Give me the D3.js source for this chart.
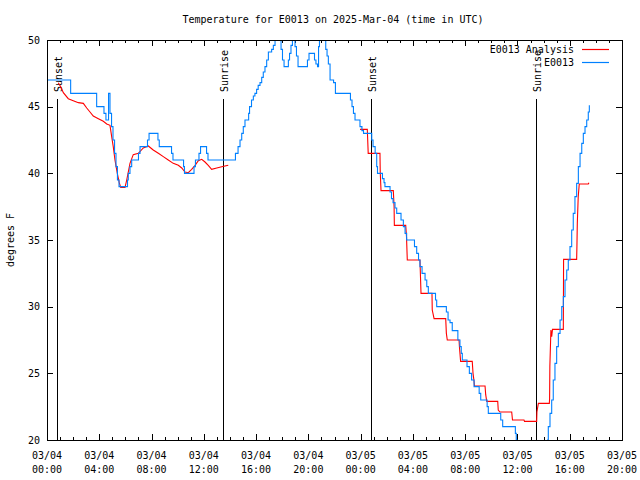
<!DOCTYPE html>
<html><head><meta charset="utf-8">
<script src="https://cdn.jsdelivr.net/npm/d3@7"></script>
<style>
body{margin:0;background:#fff}
svg{display:block}
text{font-family:"DejaVu Sans Mono",monospace;font-size:10px;fill:#000}
</style>
</head><body>
<svg id="chart" width="640" height="480"></svg>
<script>
const chartTitle = "Temperature for E0013 on 2025-Mar-04 (time in UTC)";
const yAxisLabel = "degrees F";
const seriesNames = ["E0013 Analysis", "E0013"];
const seriesColors = ["#ff0000", "#0080ff"];

const xTickHours = [0, 4, 8, 12, 16, 20, 24, 28, 32, 36, 40, 44];
const xTickDates = ["03/04","03/04","03/04","03/04","03/04","03/04","03/05","03/05","03/05","03/05","03/05","03/05"];
const xTickTimes = ["00:00","04:00","08:00","12:00","16:00","20:00","00:00","04:00","08:00","12:00","16:00","20:00"];
const yTicks = [20, 25, 30, 35, 40, 45, 50];

const eventNames = ["Sunset", "Sunrise", "Sunset", "Sunrise"];
const eventHours = [0.78, 13.47, 24.80, 37.42];

// Observations (E0013), value holds from each time until the next
const obsHours = [0,1.81,3.80,4.36,4.51,4.71,4.82,4.94,5.05,5.17,5.28,5.39,5.51,6.16,6.22,6.35,6.48,7.0,7.12,7.69,7.81,8.49,8.59,9.53,9.64,10.45,10.52,11.25,11.36,11.63,11.75,12.21,12.32,
 14.42,14.62,14.77,14.9,15.02,15.15,15.43,15.50,15.65,15.79,15.91,16.04,16.16,16.30,16.43,16.55,16.68,16.81,16.94,17.19,17.32,17.45,17.56,17.79,17.91,18.02,18.14,18.47,18.56,18.67,18.78,18.98,19.09,19.21,19.93,20.05,20.47,20.58,20.70,20.78,20.85,21.24,21.33,21.43,21.53,21.66,21.93,22.07,
 23.22,23.34,23.45,23.57,23.95,24.1,24.22,24.85,24.95,25.11,25.23,25.29,25.67,25.79,25.86,26.25,26.36,26.48,26.63,26.76,27.09,27.27,27.4,27.52,28.12,28.29,28.43,28.54,28.7,28.93,29.06,29.18,29.73,29.82,
 30.56,30.69,30.84,31.01,31.44,31.6,31.7,31.78,32.14,32.32,32.49,32.68,33.07,33.19,33.68,33.77,34.72,34.87,35.84,35.91,35.97,
 38.31,38.36,38.49,38.62,38.74,38.87,39.0,39.13,39.26,39.39,39.51,39.64,39.77,39.89,40.02,40.15,40.27,40.4,40.53,40.66,40.79,40.92,41.04,41.17,41.3,41.42,41.5];
const obsTemps = [47,46,45,44.5,44,46,44.5,43.5,42.5,41.5,40.5,39.5,39,39.5,40,40.5,41,41.5,42,42.5,43,42.5,42,41.5,41,40.5,40,40.5,41,41.5,42,41.5,41,
 41.5,42,42.5,43,43.5,44,44.5,45,45.5,45.8,46,46.3,46.6,46.8,47.2,47.6,48,48.5,49.1,49.3,49.6,50,50.5,50,49.3,48.5,48,48.5,49,49.6,50.3,49.5,48.8,48,48.5,49,48.5,48.2,48,49.5,50.5,50,49.3,48.8,48.2,47,46.8,46,
 45.5,45,44.5,44,43.5,43.2,43,42.5,42,41.5,40.5,40,39.6,39.3,39,38.6,38.1,37.8,37.4,37,36.5,36,35.5,35,34.5,34,33.5,33,32.5,32,31.5,31,30.5,30,
 29.6,29,28.8,28.2,27.5,27,26.5,26,25.5,25,24.5,24,23.5,23,22.5,22,21.5,21,20.5,20,19.5,
 20,21,22,23,24.5,25.75,27,28,29,30,30.75,32,32.75,33.5,34.5,35.75,37,38.25,39.25,40.5,41.5,42.25,43,43.5,44,44.6,45.1];

// Analysis (E0013 Analysis); null marks the gap with no analysis
const anaHours = [0.86,1.05,1.25,1.63,2.01,2.40,2.78,3.04,3.29,3.54,3.93,4.31,4.57,4.82,4.95,5.07,5.2,5.38,5.53,5.64,5.97,6.1,6.35,6.6,6.99,7.37,7.75,8.13,8.52,8.9,9.28,9.66,10.05,10.31,10.56,10.81,11.07,11.33,11.58,11.84,12.09,12.34,12.6,12.99,13.37,13.62,13.87,
 18.0,
 23.95,24.51,24.58,25.48,25.5,25.56,26.5,26.56,26.58,27.45,27.51,27.57,28.54,28.58,28.62,29.46,29.48,29.62,30.51,30.56,30.63,31.53,31.56,31.65,32.54,32.6,32.68,32.71,33.52,33.57,33.65,34.49,34.53,34.66,35.56,35.62,36.5,36.54,37.47,37.49,37.6,38.44,38.46,38.48,38.56,38.62,38.68,39.51,39.53,40.53,40.55,40.58,40.65,40.73,41.42,41.47];
const anaTemps = [46.8,46.5,46.05,45.6,45.45,45.3,45.25,44.9,44.6,44.3,44.1,43.9,43.7,43.6,42.75,42,41,40,39.3,38.95,38.95,39.5,40.75,41.4,41.5,41.9,42.05,41.75,41.5,41.25,41,40.75,40.6,40.4,40.1,40.05,40.3,40.6,40.95,41.05,40.85,40.6,40.3,40.4,40.5,40.55,40.6,
 null,
 43.3,43.3,41.5,41.5,40.1,38.7,38.7,37.5,36.1,36.1,35.25,33.5,33.5,32.25,31.0,31.0,29.75,29.1,29.1,28,27.5,27.5,27,25.9,25.9,25,24.4,24.05,24.05,23.4,22.9,22.9,22.25,22.1,22.1,21.5,21.5,21.4,21.4,22.1,22.75,22.75,23.1,25.55,28.25,27.75,28.3,28.3,33.55,33.55,34.5,36.25,38.25,39.2,39.2,39.3];

const svg = d3.select("#chart");
const x = d3.scaleLinear().domain([0, 44]).range([47, 622]);
const y = d3.scaleLinear().domain([20, 50]).range([440, 40]);
const [x0, x1] = x.range();
const [yb, yt] = y.range();

// title
svg.append("text").attr("x", 333).attr("y", 23).attr("text-anchor", "middle").text(chartTitle);
// y label
svg.append("text").attr("transform", `translate(14,${(yb+yt)/2}) rotate(-90)`)
  .attr("text-anchor", "middle").text(yAxisLabel);

// ticks
const minorHours = d3.range(0, 45, 1);
function tickAxis(gen, tx, ty, vals, size) {
  const g = svg.append("g").attr("transform", `translate(${tx},${ty})`)
    .call(gen.tickValues(vals).tickSize(size).tickFormat(""));
  g.select(".domain").remove();
  g.selectAll("line").attr("stroke", "#000").attr("shape-rendering", "crispEdges");
  return g;
}
tickAxis(d3.axisBottom(x), 0, yb, minorHours, -3);
tickAxis(d3.axisBottom(x), 0, yb, xTickHours, -6);
tickAxis(d3.axisTop(x), 0, yt, minorHours, -3);
tickAxis(d3.axisTop(x), 0, yt, xTickHours, -6);
tickAxis(d3.axisLeft(y), x0, 0, yTicks, -6);
tickAxis(d3.axisRight(y), x1, 0, yTicks, -6);

// x tick labels (two lines)
const xl = svg.append("g");
xTickHours.forEach((h, i) => {
  const t = xl.append("text").attr("text-anchor", "middle");
  t.append("tspan").attr("x", x(h)).attr("y", 459).text(xTickDates[i]);
  t.append("tspan").attr("x", x(h)).attr("y", 473).text(xTickTimes[i]);
});
// y tick labels
yTicks.forEach(v => {
  svg.append("text").attr("x", 40).attr("y", y(v)).attr("dy", "0.35em")
    .attr("text-anchor", "end").text(v);
});

// clip
svg.append("clipPath").attr("id", "plotclip").append("rect")
  .attr("x", x0).attr("y", yt).attr("width", x1 - x0).attr("height", yb - yt);

// sunrise/sunset markers
eventHours.forEach((h, i) => {
  svg.append("line").attr("x1", x(h)).attr("x2", x(h)).attr("y1", 99).attr("y2", yb)
    .attr("stroke", "#000").attr("stroke-width", 1).attr("shape-rendering", "crispEdges");
  svg.append("text").attr("transform", `translate(${x(h)+1.5},92) rotate(-90)`)
    .attr("dy", "0.35em").attr("text-anchor", "start").text(eventNames[i]);
});

const plot = svg.append("g").attr("clip-path", "url(#plotclip)");
const anaLine = d3.line().defined(d => d[1] !== null).x(d => x(d[0])).y(d => y(d[1]));
plot.append("path").datum(anaHours.map((h, i) => [h, anaTemps[i]]))
  .attr("d", anaLine).attr("fill", "none").style("stroke", seriesColors[0]).attr("stroke-width", 1.1);
const obsLine = d3.line().curve(d3.curveStepAfter).x(d => x(d[0])).y(d => y(d[1]));
plot.append("path").datum(obsHours.map((h, i) => [h, obsTemps[i]]))
  .attr("d", obsLine).attr("fill", "none").style("stroke", seriesColors[1]).attr("stroke-width", 1.1);

// border
svg.append("rect").attr("x", x0).attr("y", yt).attr("width", x1 - x0).attr("height", yb - yt)
  .attr("fill", "none").attr("stroke", "#000").attr("stroke-width", 1).attr("shape-rendering", "crispEdges");

// legend
const legend = svg.append("g");
seriesNames.forEach((n, i) => {
  const ly = 49.5 + i * 13;
  legend.append("text").attr("x", 574).attr("y", ly).attr("dy", "0.35em").attr("text-anchor", "end").text(n);
  legend.append("path").attr("d", `M582,${ly}H609`)
    .attr("fill", "none").style("stroke", seriesColors[i]).attr("stroke-width", 1.2);
});
</script>
</body></html>
